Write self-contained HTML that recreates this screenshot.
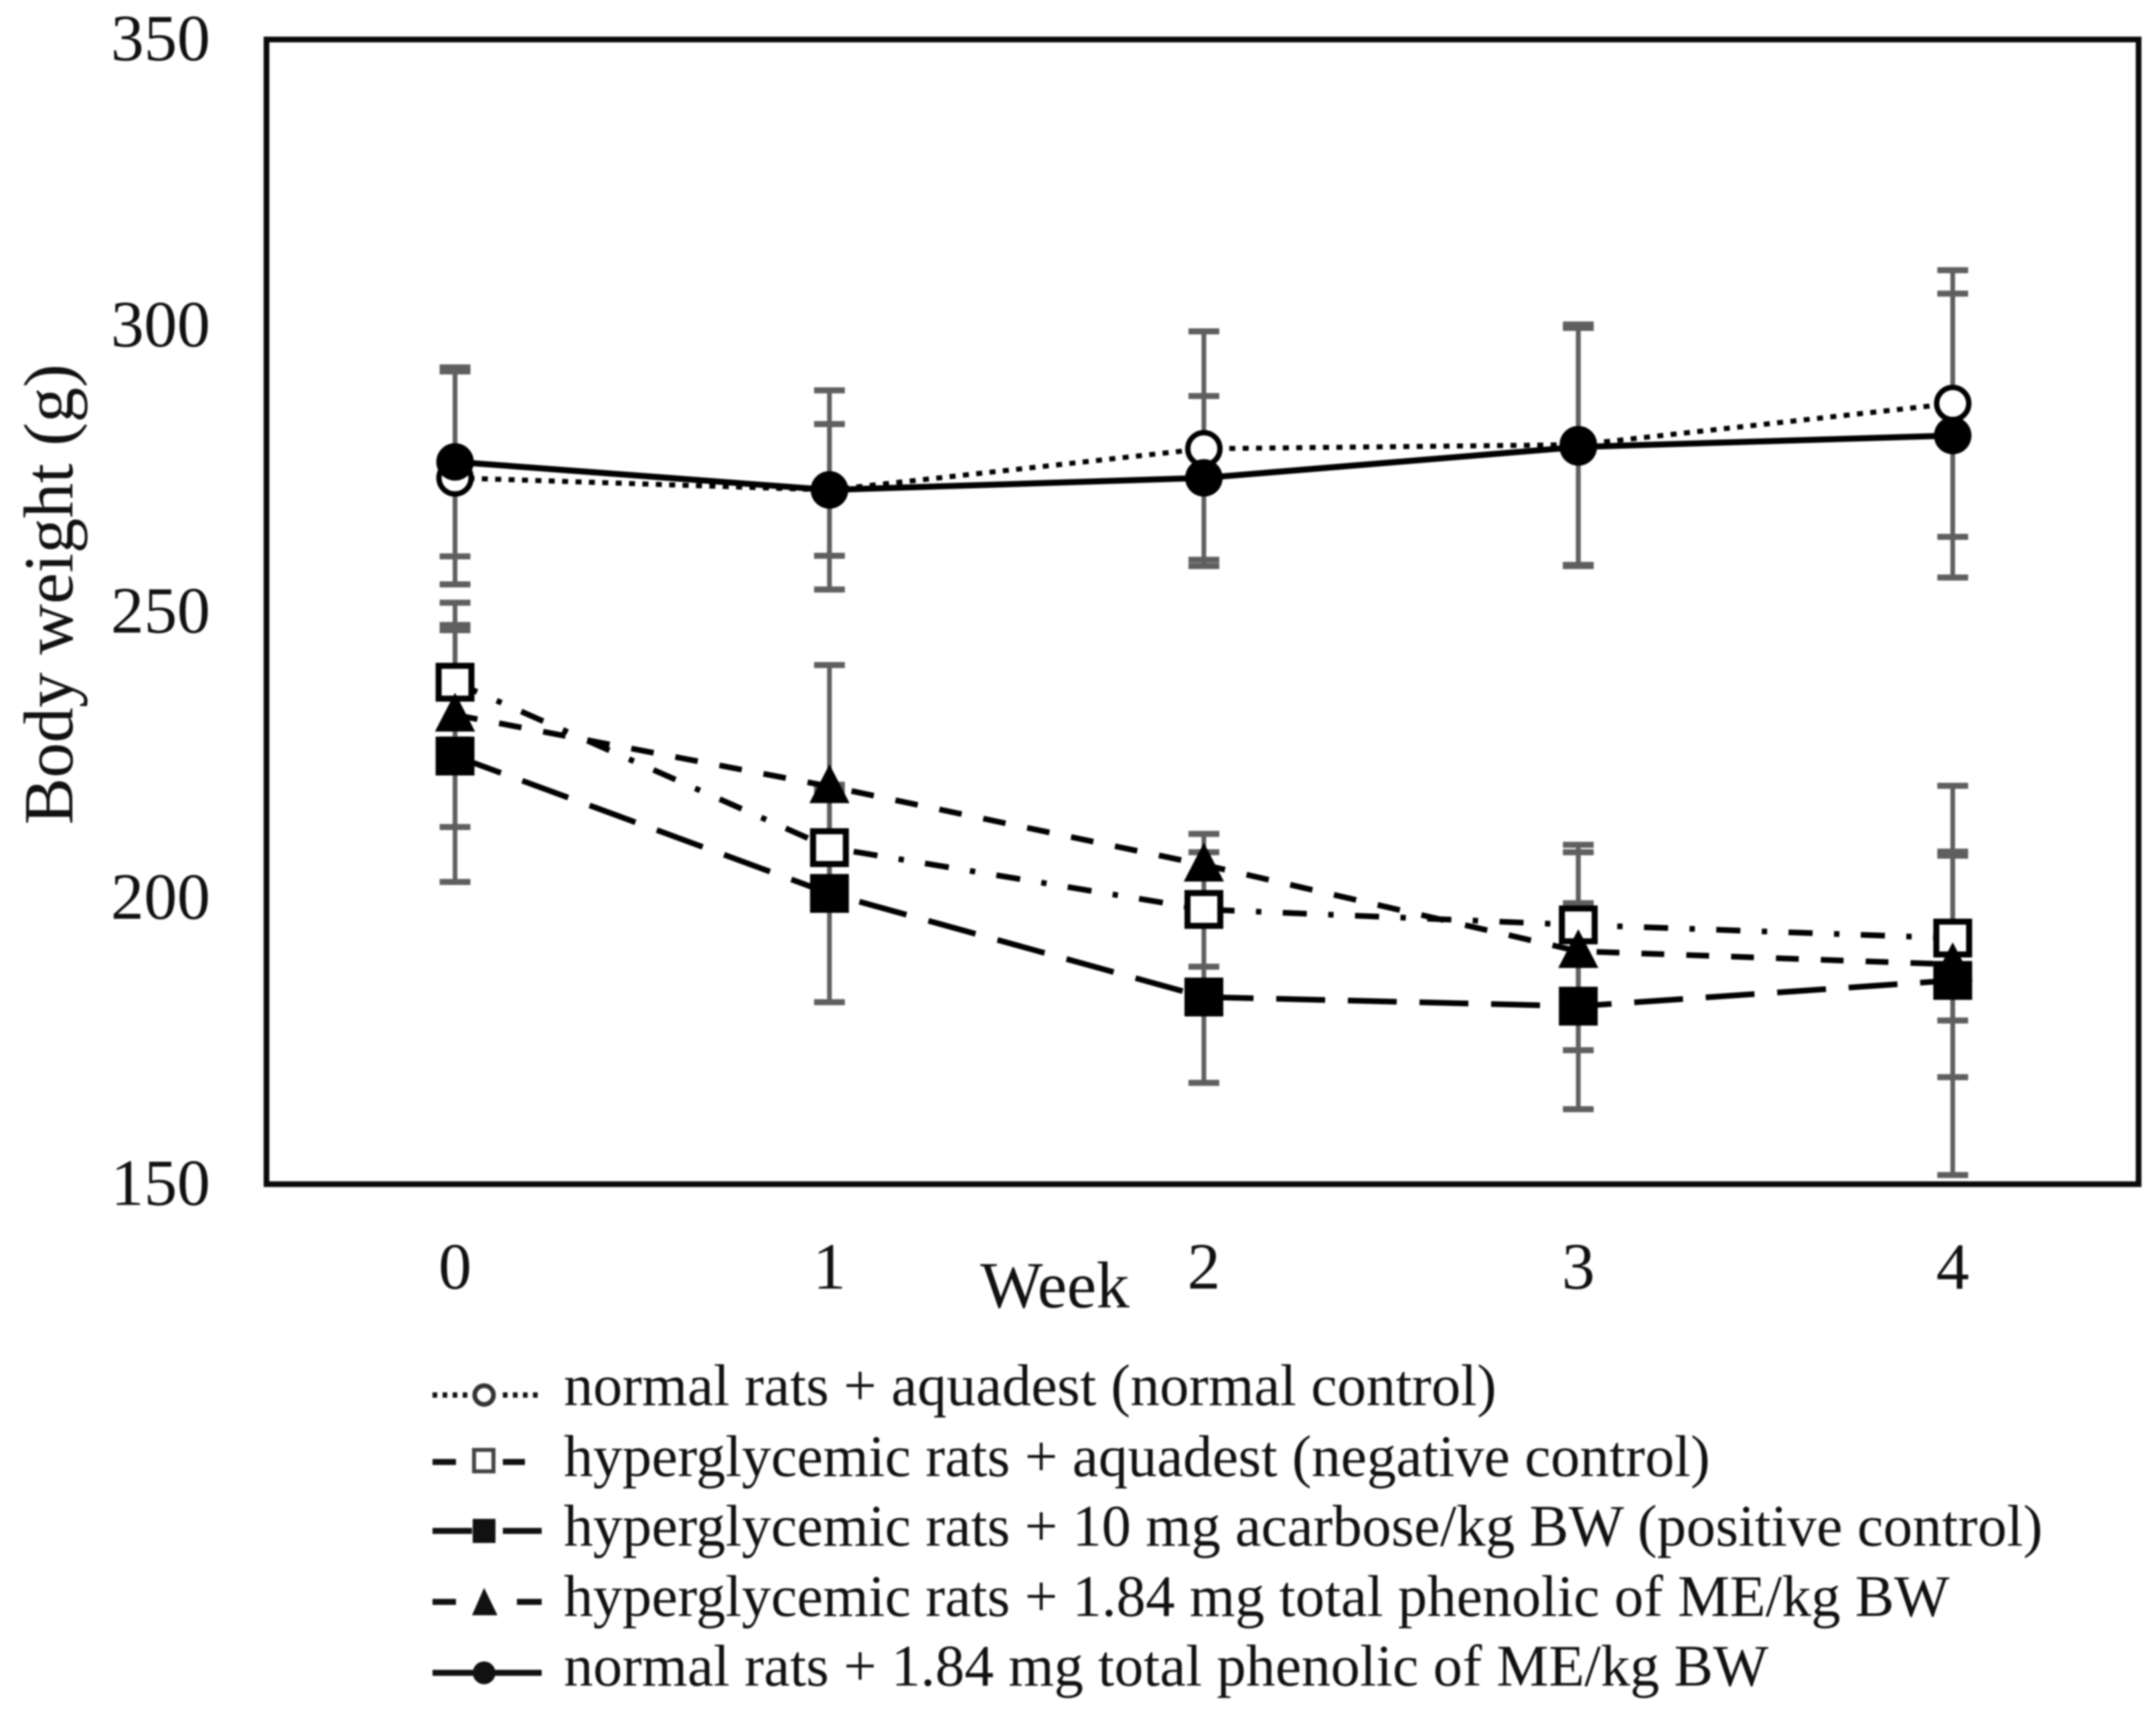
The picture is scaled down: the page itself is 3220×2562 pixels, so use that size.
<!DOCTYPE html>
<html lang="en">
<head>
<meta charset="utf-8">
<title>Body weight over time</title>
<style>
html,body{margin:0;padding:0;background:#fff;width:3220px;height:2562px;overflow:hidden}
#chart{display:block;position:absolute;left:0;top:0;filter:blur(1.3px)}
text{font-family:"Liberation Serif",serif;fill:#111}
</style>
</head>
<body>
<svg id="chart" width="3220" height="2562" viewBox="0 0 3220 2562" xmlns="http://www.w3.org/2000/svg">
<rect x="0" y="0" width="3220" height="2562" fill="#fff"/>
<g id="errors"></g>
<g id="lines"></g>
<g id="markers"></g>
<rect x="398" y="59" width="2796" height="1710" fill="none" stroke="#0a0a0a" stroke-width="8.5"/>
<g id="yticks"></g>
<g id="xticks"></g>
<text x="108" y="1232" font-size="105" transform="rotate(-90 108 1232)">Body weight (g)</text>
<text x="1464" y="1953" font-size="99">Week</text>

<g>
  <g>
    <line x1="646" y1="2084" x2="705" y2="2084" stroke="#111" stroke-width="8" stroke-dasharray="7 8"/>
    <line x1="751" y1="2084" x2="809" y2="2084" stroke="#111" stroke-width="8" stroke-dasharray="7 8"/>
    <circle cx="723" cy="2084" r="14" fill="#fff" stroke="#333" stroke-width="7"/>
    <text x="842" y="2099" font-size="87.5">normal rats + aquadest (normal control)</text>
  </g>
  <g>
    <line x1="646" y1="2184" x2="681" y2="2184" stroke="#111" stroke-width="9"/>
    <line x1="751" y1="2184" x2="784" y2="2184" stroke="#111" stroke-width="9"/>
    <rect x="708" y="2166" width="29" height="32" fill="#fff" stroke="#444" stroke-width="6"/>
    <text x="842" y="2205" font-size="87.5">hyperglycemic rats + aquadest (negative control)</text>
  </g>
  <g>
    <line x1="646" y1="2287" x2="705" y2="2287" stroke="#111" stroke-width="9"/>
    <line x1="751" y1="2287" x2="809" y2="2287" stroke="#111" stroke-width="9"/>
    <rect x="706" y="2269" width="34" height="36" fill="#111"/>
    <text x="842" y="2309" font-size="87.5">hyperglycemic rats + 10 mg acarbose/kg BW (positive control)</text>
  </g>
  <g>
    <line x1="646" y1="2393" x2="681" y2="2393" stroke="#111" stroke-width="9"/>
    <line x1="772" y1="2393" x2="809" y2="2393" stroke="#111" stroke-width="9"/>
    <polygon points="723,2372 743,2413 705,2413" fill="#111"/>
    <text x="842" y="2414" font-size="87.5">hyperglycemic rats + 1.84 mg total phenolic of ME/kg BW</text>
  </g>
  <g>
    <line x1="646" y1="2499" x2="809" y2="2499" stroke="#111" stroke-width="9"/>
    <circle cx="723" cy="2499" r="17" fill="#111"/>
    <text x="842" y="2518" font-size="87.5">normal rats + 1.84 mg total phenolic of ME/kg BW</text>
  </g>
</g>
</svg>

<script>
const weekLabels = ["0", "1", "2", "3", "4"];
const yTickValues = [150, 200, 250, 300, 350];

const normalControlMeans = [273.4, 271.3, 278.5, 279.2, 286.4];
const normalControlErrors = [18.6, 17.4, 20.5, 21, 23.3];

const negativeControlMeans = [237.7, 208.8, 198, 195.3, 193];
const negativeControlErrors = [10, 10, 10, 14, 14.4];

const acarboseMeans = [224.8, 200.8, 182.7, 181.1, 185.6];
const acarboseErrors = [22, 19, 15, 18, 34];

const phenolicHyperMeans = [232, 219.5, 205.8, 190.7, 188.4];
const phenolicHyperErrors = [19.6, 21.2, 5.4, 17.3, 19.7];

const phenolicNormalMeans = [276.2, 271.3, 273.4, 278.8, 280.8];
const phenolicNormalErrors = [16.5, 11.5, 14.3, 20.8, 24.8];

const NS = "http://www.w3.org/2000/svg";
const plot = { left: 398, right: 3194, top: 59, bottom: 1769, yMin: 150, yMax: 350 };

function xScale(i) {
  const band = (plot.right - plot.left) / weekLabels.length;
  return plot.left + (i + 0.5) * band + 2;
}
function yScale(v) {
  return plot.bottom - (v - plot.yMin) / (plot.yMax - plot.yMin) * (plot.bottom - plot.top);
}
function make(tag, attrs, parent) {
  const el = document.createElementNS(NS, tag);
  for (const k in attrs) el.setAttribute(k, attrs[k]);
  parent.appendChild(el);
  return el;
}

const errorsGroup = document.getElementById("errors");
const linesGroup = document.getElementById("lines");
const markersGroup = document.getElementById("markers");
const yTicksGroup = document.getElementById("yticks");
const xTicksGroup = document.getElementById("xticks");

const seriesList = [
  { key: "normal-control", means: normalControlMeans, errors: normalControlErrors, dash: "9 11", width: 7.5, marker: "open-circle" },
  { key: "negative-control", means: negativeControlMeans, errors: negativeControlErrors, dash: "36 32 8 32", width: 8.5, marker: "open-square" },
  { key: "acarbose", means: acarboseMeans, errors: acarboseErrors, dash: "73 34", width: 8.5, marker: "filled-square" },
  { key: "phenolic-hyperglycemic", means: phenolicHyperMeans, errors: phenolicHyperErrors, dash: "34 33", width: 8.5, marker: "triangle" },
  { key: "phenolic-normal", means: phenolicNormalMeans, errors: phenolicNormalErrors, dash: "none", width: 9, marker: "filled-circle" }
];

function drawErrorBars(s) {
  s.means.forEach(function (m, i) {
    const x = xScale(i);
    const yHi = yScale(m + s.errors[i]);
    const yLo = yScale(m - s.errors[i]);
    const stem = make("line", { x1: x, x2: x, y1: yHi, y2: yLo, stroke: "#5f5f5f", "stroke-width": 7 }, errorsGroup);
    
    
    [yHi, yLo].forEach(function (y) {
      const cap = make("line", { x1: x - 23, x2: x + 23, y1: y, y2: y, stroke: "#5f5f5f", "stroke-width": 9 }, errorsGroup);
      
      
    });
  });
}

function drawLine(s) {
  const pts = s.means.map(function (m, i) { return xScale(i) + "," + yScale(m); }).join(" ");
  const line = make("polyline", { points: pts, fill: "none", stroke: "#000", "stroke-width": s.width, "stroke-dasharray": s.dash, "stroke-linejoin": "round" }, linesGroup);
  
  
}

function drawMarker(s, i) {
  const x = xScale(i);
  const y = yScale(s.means[i]);
  let mark;
  if (s.marker === "open-circle") {
    mark = make("circle", { cx: x, cy: y, r: 24, fill: "#fff", stroke: "#000", "stroke-width": 8 }, markersGroup);
  } else if (s.marker === "filled-circle") {
    mark = make("circle", { cx: x, cy: y, r: 28, fill: "#000" }, markersGroup);
  } else if (s.marker === "open-square") {
    mark = make("rect", { x: x - 24.5, y: y - 24.5, width: 49, height: 49, fill: "#fff", stroke: "#000", "stroke-width": 9 }, markersGroup);
  } else if (s.marker === "filled-square") {
    mark = make("rect", { x: x - 29, y: y - 29, width: 58, height: 58, fill: "#000" }, markersGroup);
  } else {
    mark = make("polygon", { points: x + "," + (y - 33) + " " + (x + 30) + "," + (y + 25) + " " + (x - 30) + "," + (y + 25), fill: "#000" }, markersGroup);
  }
  
  
}

seriesList.forEach(drawErrorBars);
seriesList.forEach(drawLine);
seriesList.forEach(function (s) {
  s.means.forEach(function (m, i) { drawMarker(s, i); });
});

yTickValues.forEach(function (v) {
  const t = make("text", { x: 314, y: yScale(v) + 31, "font-size": 99, "text-anchor": "end" }, yTicksGroup);
  t.textContent = String(v);
  
  
});

weekLabels.forEach(function (w, i) {
  const t = make("text", { x: xScale(i), y: 1925, "font-size": 99, "text-anchor": "middle" }, xTicksGroup);
  t.textContent = w;
  
  
});
</script>
</body>
</html>
